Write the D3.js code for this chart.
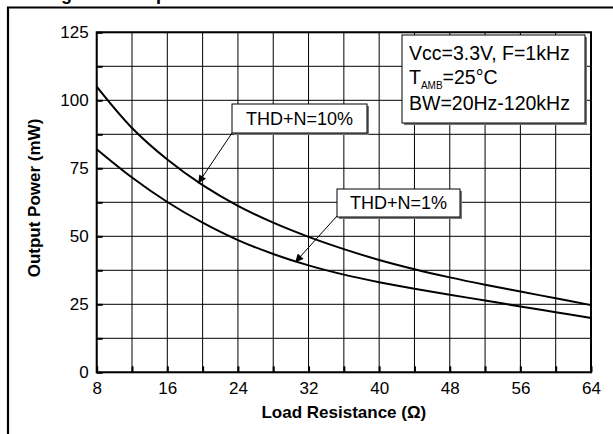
<!DOCTYPE html>
<html>
<head>
<meta charset="utf-8">
<script src="https://cdn.jsdelivr.net/npm/d3@7"></script>
<style>
  html, body { margin: 0; padding: 0; background: #fff; }
  svg { display: block; font-family: "Liberation Sans", Arial, sans-serif; }
</style>
</head>
<body>
<svg id="chart" width="613" height="434"></svg>
<script>
// Load resistance (ohm) sample points
const resistance = [8, 12, 16, 20, 24, 28, 32, 36, 40, 44, 48, 52, 56, 60, 64];
// Output power (mW) at THD+N = 10%
const power10 = [105, 89.8, 78.2, 68.8, 61.2, 55.0, 49.8, 45.3, 41.3, 37.9, 34.9, 32.2, 29.7, 27.2, 24.7];
// Output power (mW) at THD+N = 1%
const power1 = [82, 71.6, 62.6, 55.0, 48.6, 43.5, 39.3, 35.9, 33.1, 30.7, 28.5, 26.4, 24.2, 22.1, 20];

const xTicks = [8, 16, 24, 32, 40, 48, 56, 64];
const yTicks = [0, 25, 50, 75, 100, 125];
const xGrid = d3.range(8, 64.01, 4);
const yGrid = d3.range(0, 125.01, 12.5);

const svg = d3.select("#chart");
const pLeft = 96.7, pRight = 591, pTop = 32.3, pBottom = 372.3;

const x = d3.scaleLinear().domain([8, 64]).range([pLeft, pRight]);
const y = d3.scaleLinear().domain([0, 125]).range([pBottom, pTop]);

// outer frame of the figure
svg.append("path")
  .attr("d", `M8,434 L8,7.5 L620,7.5`)
  .attr("fill", "none").attr("stroke", "#000").attr("stroke-width", 2.2);

// figure caption, sitting above the frame
svg.append("text")
  .attr("x", 45).attr("y", -0.5)
  .attr("font-size", 18).attr("font-weight", "bold")
  .text("Figure 8. Output Power vs. Load Resistance");

// grid
const grid = svg.append("g");
grid.selectAll("line.v").data(xGrid).join("line").attr("class", "v")
  .attr("x1", d => x(d)).attr("x2", d => x(d))
  .attr("y1", pTop).attr("y2", pBottom)
  .attr("stroke", "#000").attr("stroke-width", 1);
grid.selectAll("line.h").data(yGrid).join("line").attr("class", "h")
  .attr("x1", pLeft).attr("x2", pRight)
  .attr("y1", d => y(d)).attr("y2", d => y(d))
  .attr("stroke", "#000").attr("stroke-width", 1);

// axes with inward ticks
const xAxis = d3.axisBottom(x).tickValues(xGrid).tickSizeInner(-6).tickSizeOuter(0)
  .tickFormat(d => xTicks.includes(d) ? d : "");
const yAxis = d3.axisLeft(y).tickValues(yGrid).tickSizeInner(-6).tickSizeOuter(0)
  .tickFormat(d => yTicks.includes(d) ? d : "");

const gx = svg.append("g").attr("transform", `translate(0,${pBottom})`).call(xAxis);
const gy = svg.append("g").attr("transform", `translate(${pLeft},0)`).call(yAxis);
[gx, gy].forEach(g => {
  g.select(".domain").remove();
  g.selectAll(".tick line").attr("stroke", "#000").attr("stroke-width", 2);
  g.selectAll(".tick text").attr("fill", "#000").attr("font-size", 17)
    .attr("font-family", "Liberation Sans, Arial, sans-serif");
});
gx.selectAll(".tick text").attr("y", 10).attr("dy", "0.71em");
gy.selectAll(".tick text").attr("x", -8).attr("dy", "0.3em");

// plot frame
svg.append("rect")
  .attr("x", pLeft).attr("y", pTop)
  .attr("width", pRight - pLeft).attr("height", pBottom - pTop)
  .attr("fill", "none").attr("stroke", "#000").attr("stroke-width", 2);

// curves
const line = d3.line().x((d, i) => x(resistance[i])).y(d => y(d)).curve(d3.curveCatmullRom);
[power10, power1].forEach(series => {
  svg.append("path").datum(series)
    .attr("d", line)
    .attr("fill", "none").attr("stroke", "#000").attr("stroke-width", 2);
});

// arrowhead
svg.append("defs").append("marker")
  .attr("id", "arrow").attr("viewBox", "0 0 10 10")
  .attr("refX", 10).attr("refY", 5)
  .attr("markerWidth", 10).attr("markerHeight", 8)
  .attr("markerUnits", "userSpaceOnUse")
  .attr("orient", "auto")
  .append("path").attr("d", "M0,0 L10,5 L0,10 z").attr("fill", "#000");

function callout(bx, by, bw, bh, label, from, to) {
  svg.append("line")
    .attr("x1", from[0]).attr("y1", from[1]).attr("x2", to[0]).attr("y2", to[1])
    .attr("stroke", "#000").attr("stroke-width", 1).attr("marker-end", "url(#arrow)");
  svg.append("rect").attr("x", bx + 2).attr("y", by + 2).attr("width", bw).attr("height", bh)
    .attr("fill", "#777");
  svg.append("rect").attr("x", bx).attr("y", by).attr("width", bw).attr("height", bh)
    .attr("fill", "#fff").attr("stroke", "#000").attr("stroke-width", 1);
  svg.append("text").attr("x", bx + bw / 2).attr("y", by + bh / 2).attr("dy", "0.36em")
    .attr("text-anchor", "middle").attr("font-size", 18).text(label);
}

// curve labels, pointing at the 10% curve near 19 ohm and the 1% curve near 30 ohm
callout(232, 104, 135, 29, "THD+N=10%", [232, 133], [x(19.5), y(69.5)]);
callout(337, 189, 123, 28, "THD+N=1%", [337, 216], [x(30.5), y(40.5)]);

// conditions box
svg.append("rect").attr("x", 404).attr("y", 37).attr("width", 183).attr("height", 88).attr("fill", "#777");
svg.append("rect").attr("x", 402).attr("y", 35).attr("width", 183).attr("height", 88)
  .attr("fill", "#fff").attr("stroke", "#000").attr("stroke-width", 1);
const info = svg.append("g").attr("font-size", 19.5);
info.append("text").attr("x", 409).attr("y", 60).text("Vcc=3.3V, F=1kHz");
const t2 = info.append("text").attr("x", 409).attr("y", 84);
t2.append("tspan").text("T");
t2.append("tspan").attr("font-size", 10).attr("dy", 5).text("AMB");
t2.append("tspan").attr("dy", -5).text("=25°C");
info.append("text").attr("x", 409).attr("y", 110).text("BW=20Hz-120kHz");

// axis titles
svg.append("text")
  .attr("x", (pLeft + pRight) / 2).attr("y", 418)
  .attr("text-anchor", "middle").attr("font-size", 17).attr("font-weight", "bold")
  .text("Load Resistance (Ω)");
svg.append("text")
  .attr("transform", `translate(40,198) rotate(-90)`)
  .attr("text-anchor", "middle").attr("font-size", 17).attr("font-weight", "bold")
  .text("Output Power (mW)");
</script>
</body>
</html>
